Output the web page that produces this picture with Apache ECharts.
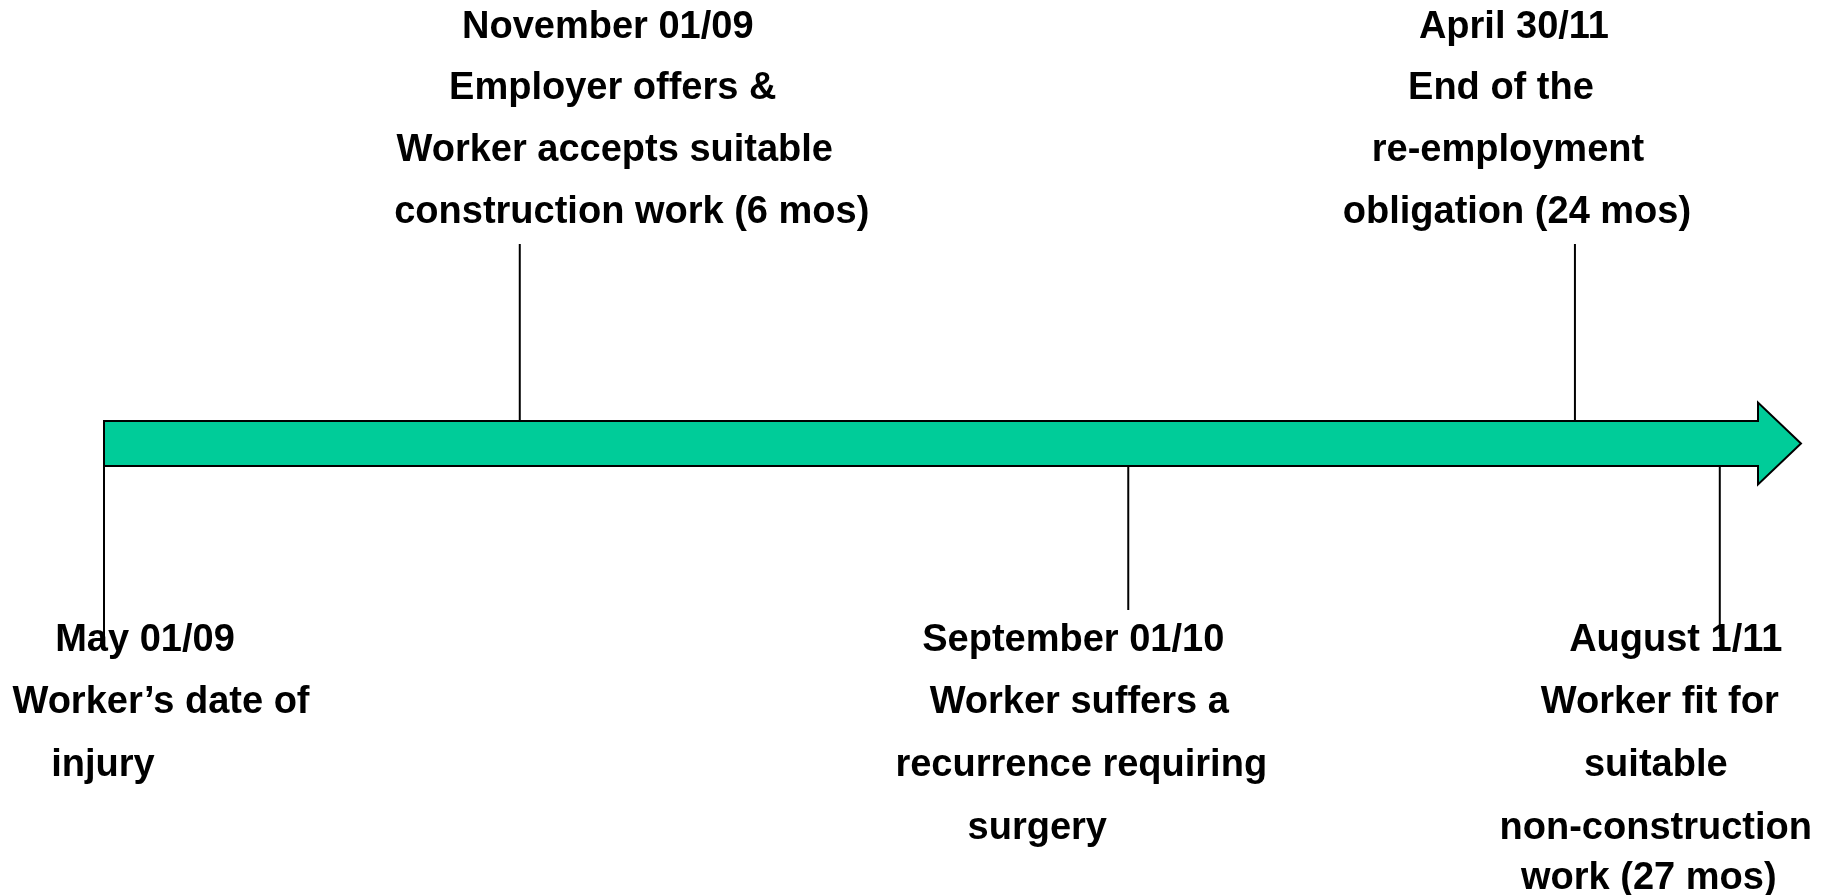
<!DOCTYPE html>
<html>
<head>
<meta charset="utf-8">
<title>Re-employment obligation timeline</title>
<script src="https://cdn.jsdelivr.net/npm/echarts@6/dist/echarts.min.js"></script>
<style>
  html, body { margin: 0; padding: 0; background: #fff; }
  #main { width: 1823px; height: 895px; }
</style>
</head>
<body>
<div id="main"></div>
<script type="text/javascript">
    // event data
    var eventDates = ['May 01/09', 'November 01/09', 'September 01/10', 'April 30/11', 'August 1/11'];
    var eventNotes = [
        ['Worker’s date of', 'injury'],
        ['Employer offers &', 'Worker accepts suitable', 'construction work (6 mos)'],
        ['Worker suffers a', 'recurrence requiring', 'surgery'],
        ['End of the', 're-employment', 'obligation (24 mos)'],
        ['Worker fit for', 'suitable', 'non-construction', 'work (27 mos)']
    ];
    // where each event sits along the arrow, in months after the injury (as drawn)
    var drawnAt = [0, 6.86, 16.9, 24.27, 26.66];
    // 1 = label above the arrow, -1 = below
    var eventSide = [-1, 1, -1, 1, -1];
    // arrow runs from the injury to its tip
    var arrowSpan = [0, 28];

    // layout only (px)
    var bodyHalf = 22.5, headHalf = 41, headLen = 43;
    var stemLen = [171, 177, 144, 177, 171];
    // horizontal centre of each text line, relative to its stem
    var lineDx = [
        [41, 57, -1],
        [88, 93, 95, 112],
        [-55, -49, -47, -91],
        [-61, -74, -67, -58],
        [-44, -60, -64, -64, -71]
    ];
    // vertical centre of each text line, relative to the arrow's centre line
    var topDy = [-416, -354.5, -292.5, -231];
    var lowDy = [197.5, 259.5, 322.5, 385.5, 435.5];

    var myChart = echarts.init(document.getElementById('main'));

    var option = {
        animation: false,
        grid: { left: 104, right: 22, top: 0, bottom: 8 },
        xAxis: { type: 'value', min: arrowSpan[0], max: arrowSpan[1], show: false },
        yAxis: { type: 'value', min: -1, max: 1, show: false },
        series: [{
            // the green arrow
            type: 'custom',
            clip: false,
            silent: true,
            data: [arrowSpan],
            renderItem: function (params, api) {
                var a = api.coord([api.value(0), 0]);
                var b = api.coord([api.value(1), 0]);
                var cy = a[1];
                var hx = b[0] - headLen;
                return {
                    type: 'polygon',
                    shape: {
                        points: [
                            [a[0], cy - bodyHalf], [hx, cy - bodyHalf], [hx, cy - headHalf],
                            [b[0], cy], [hx, cy + headHalf], [hx, cy + bodyHalf], [a[0], cy + bodyHalf]
                        ]
                    },
                    style: { fill: '#00CC99', stroke: '#000', lineWidth: 2 }
                };
            }
        }, {
            // stems + labels
            type: 'custom',
            clip: false,
            silent: true,
            data: drawnAt.map(function (x, i) { return [x, eventSide[i], i]; }),
            renderItem: function (params, api) {
                var i = api.value(2);
                var s = api.value(1);
                var p = api.coord([api.value(0), 0]);
                var cy = p[1];
                var children = [{
                    type: 'line',
                    shape: {
                        x1: p[0], y1: cy - s * bodyHalf,
                        x2: p[0], y2: cy - s * (bodyHalf + stemLen[i])
                    },
                    style: { stroke: '#000', lineWidth: 2 }
                }];
                var lines = [eventDates[i]].concat(eventNotes[i]);
                var dys = s > 0 ? topDy.slice(topDy.length - lines.length) : lowDy;
                lines.forEach(function (t, k) {
                    children.push({
                        type: 'text',
                        x: p[0] + lineDx[i][k],
                        y: cy + dys[k],
                        style: {
                            text: t,
                            fill: '#000',
                            font: 'bold 38px "Liberation Sans", Arial, sans-serif',
                            align: 'center',
                            verticalAlign: 'middle'
                        }
                    });
                });
                return { type: 'group', children: children };
            }
        }]
    };
    myChart.setOption(option);
</script>
</body>
</html>
